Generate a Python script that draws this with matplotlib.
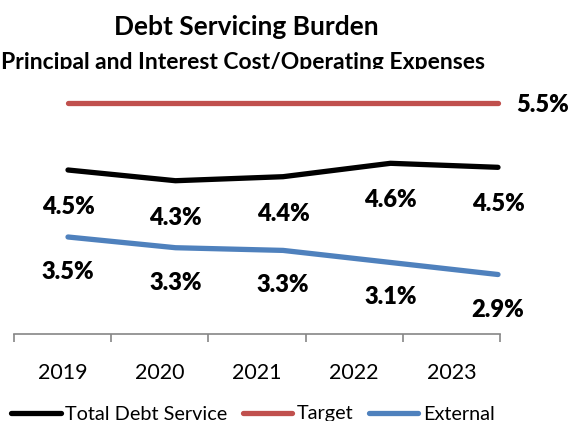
import matplotlib.pyplot as plt
from matplotlib.lines import Line2D
from matplotlib.transforms import Bbox

plt.rcParams['font.family'] = ['Lato', 'DejaVu Sans']

years = ['2019', '2020', '2021', '2022', '2023']
total_debt = [4.50, 4.34, 4.40, 4.60, 4.54]
target = [5.5, 5.5, 5.5, 5.5, 5.5]
external = [3.50, 3.34, 3.30, 3.12, 2.94]

W, H = 577, 421
fig = plt.figure(figsize=(W / 100, H / 100), dpi=100)

# title and subtitle (subtitle is cut off at the baseline like the original)
fig.text(246 / W, 1 - 27 / H, 'Debt Servicing Burden', ha='center', va='center',
         fontsize=19, fontweight='bold')
sub = fig.text(243 / W, 1 - 69 / H, 'Principal and Interest Cost/Operating Expenses',
               ha='center', va='baseline', fontsize=16.5, fontweight='bold')
sub.set_clip_box(Bbox([[0, H - 69], [W, H]]))
sub.set_clip_on(True)

# data axes
ax = fig.add_axes([14.25 / W, (H - 337.5) / H, 537.5 / W, 268 / H])
ax.set_xlim(-0.5, 4.5)
ax.set_ylim(2.0, 6.0)
ax.axis('off')
x = list(range(len(years)))
ax.plot(x, target, color='#C0504D', lw=3.8, solid_capstyle='round')
ax.plot(x, total_debt, color='#000000', lw=3.8, solid_capstyle='round')
ax.plot(x, external, color='#4F81BD', lw=3.8, solid_capstyle='round')

lbl = dict(ha='center', va='center', fontsize=17, fontweight='heavy')
for xi, v in zip(x, total_debt):
    ax.annotate(f'{v:.1f}%', (xi, v), xytext=(0, -37), textcoords='offset pixels', **lbl)
for xi, v in zip(x, external):
    ax.annotate(f'{v:.1f}%', (xi, v), xytext=(0, -35), textcoords='offset pixels', **lbl)
ax.annotate(f'{target[-1]:.1f}%', (x[-1], target[-1]), xytext=(45, -2),
            textcoords='offset pixels', **lbl)

# category axis
ax2 = fig.add_axes([14 / W, (H - 334) / H, 486 / W, 0.01])
ax2.set_xlim(0, 5)
for s in ['top', 'left', 'right']:
    ax2.spines[s].set_visible(False)
ax2.spines['bottom'].set_color('#868686')
ax2.spines['bottom'].set_linewidth(1.2)
ax2.set_yticks([])
ax2.set_xticks(range(6))
ax2.set_xticklabels([])
ax2.tick_params(axis='x', which='major', direction='out', length=6, width=1.2, color='#868686')
ax2.set_xticks([i + 0.5 for i in range(5)], years, minor=True)
ax2.tick_params(axis='x', which='minor', length=0, pad=21, labelsize=15.5)

handles = [Line2D([], [], color='#000000', lw=3.8, solid_capstyle='round'),
           Line2D([], [], color='#C0504D', lw=3.8, solid_capstyle='round'),
           Line2D([], [], color='#4F81BD', lw=3.8, solid_capstyle='round')]
fig.legend(handles, ['Total Debt Service', 'Target', 'External'], ncol=3, frameon=False,
           loc='center', bbox_to_anchor=(253 / W, 1 - 414 / H), fontsize=14.3,
           handlelength=2.5, handletextpad=0.25, columnspacing=0.75, borderaxespad=0)

fig.savefig('out.png', dpi=100)
